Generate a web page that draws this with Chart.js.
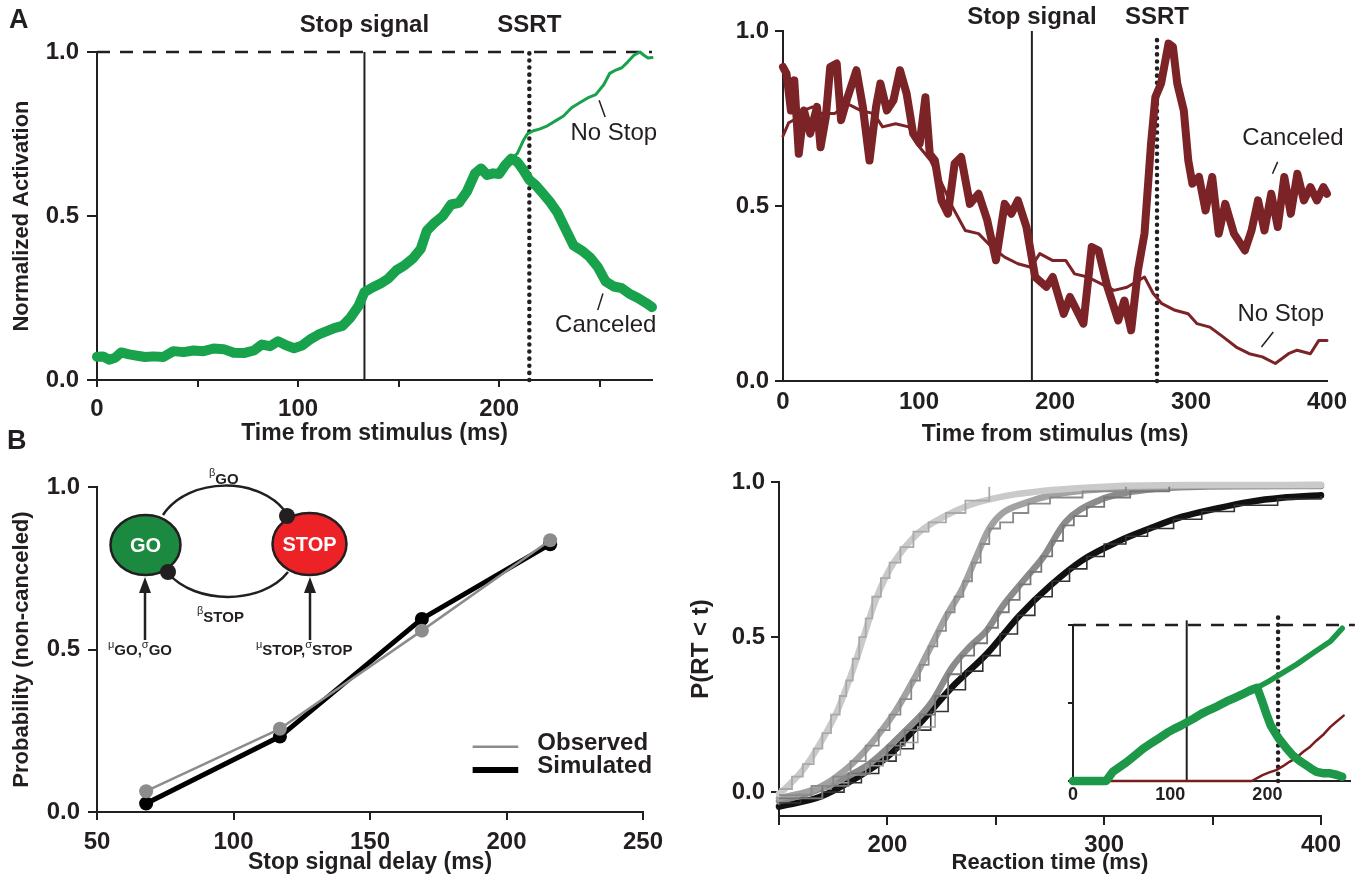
<!DOCTYPE html>
<html lang="en">
<head>
  <meta charset="UTF-8" />
  <title>Stop signal model</title>
  <script src="https://cdn.jsdelivr.net/npm/chart.js@4.4.0/dist/chart.umd.min.js"></script>
  <style>
    body      { margin:0; background:#fff; font-family:'Liberation Sans', Arial, sans-serif; }
    #page     { position:relative; width:1366px; height:880px; overflow:hidden; }
    canvas    { position:absolute; left:0; top:0; }
    svg       { position:absolute; left:0; top:0; pointer-events:none; }
    .letter   { position:absolute; font-weight:bold; font-size:27px; color:#231f20; }
  </style>
</head>
<body>
<div id="page">
  <canvas id="aLeft"  width="1366" height="880"></canvas>
  <canvas id="aRight" width="1366" height="880"></canvas>
  <canvas id="bLeft"  width="1366" height="880"></canvas>
  <canvas id="bRight" width="1366" height="880"></canvas>
  <canvas id="inset"  width="1366" height="880"></canvas>

  <!-- GO / STOP model sketch -->
  <svg width="1366" height="880" font-family="'Liberation Sans', Arial, sans-serif" fill="#231f20">
    <path d="M163,515 C188,476 262,476 287,514" fill="none" stroke="#231f20" stroke-width="2.5"/>
    <path d="M168,573 C195,605 262,605 288,572" fill="none" stroke="#231f20" stroke-width="2.5"/>
    <ellipse cx="145.5" cy="545" rx="35" ry="30" fill="#1b8a40" stroke="#231f20" stroke-width="2.5"/>
    <ellipse cx="309.5" cy="544" rx="37" ry="31" fill="#ec2227" stroke="#231f20" stroke-width="2.5"/>
    <circle cx="287" cy="516" r="8"/>
    <circle cx="168" cy="572" r="8"/>
    <text x="145.5" y="552" fill="#fff" font-size="20" font-weight="bold" text-anchor="middle">GO</text>
    <text x="309.5" y="551" fill="#fff" font-size="20" font-weight="bold" text-anchor="middle">STOP</text>
    <line x1="145" y1="640" x2="145" y2="590" stroke="#231f20" stroke-width="2.5"/>
    <polygon points="145,577 139,593 151,593"/>
    <line x1="310" y1="640" x2="310" y2="590" stroke="#231f20" stroke-width="2.5"/>
    <polygon points="310,577 304,593 316,593"/>
    <text x="209" y="484"><tspan font-size="11" dy="-8">β</tspan><tspan font-size="15" font-weight="bold" dy="8">GO</tspan></text>
    <text x="197" y="622"><tspan font-size="11" dy="-8">β</tspan><tspan font-size="15" font-weight="bold" dy="8">STOP</tspan></text>
    <text x="108" y="655"><tspan font-size="11" dy="-7">μ</tspan><tspan font-size="15" font-weight="bold" dy="7">GO,</tspan><tspan font-size="11" dy="-7">σ</tspan><tspan font-size="15" font-weight="bold" dy="7">GO</tspan></text>
    <text x="256" y="655"><tspan font-size="11" dy="-7">μ</tspan><tspan font-size="15" font-weight="bold" dy="7">STOP,</tspan><tspan font-size="11" dy="-7">σ</tspan><tspan font-size="15" font-weight="bold" dy="7">STOP</tspan></text>
  </svg>

  <div class="letter" style="left:9px; top:4px;">A</div>
  <div class="letter" style="left:7px; top:425px;">B</div>
</div>

<script>
  /* ── panel A, left: GO unit activation ── */
  const aTime     = [0,3,6,9,12,16,20,24,28,33,38,43,48,53,58,63,68,73,78,82,86,90,94,98,102,106,110,114,118,122,126,130,133,137,141,145,149,153,157,161,164,168,172,176,180,184,188,191,194,197,200,203,206,209,212,215,218,221,225,229,233,237,241,245,249,253,257,261,265,269,273,276];
  const aCanceled = [0.071,0.072,0.062,0.068,0.084,0.078,0.074,0.07,0.072,0.07,0.088,0.085,0.09,0.088,0.096,0.094,0.083,0.082,0.09,0.108,0.103,0.118,0.106,0.097,0.105,0.124,0.138,0.148,0.158,0.165,0.19,0.225,0.268,0.282,0.294,0.31,0.335,0.35,0.37,0.4,0.455,0.48,0.5,0.535,0.54,0.575,0.63,0.645,0.625,0.63,0.628,0.655,0.675,0.665,0.64,0.61,0.595,0.574,0.545,0.51,0.46,0.41,0.395,0.375,0.345,0.3,0.285,0.28,0.262,0.25,0.235,0.222];
  const aNsTime   = [206,209,212,214,217,220,224,228,232,236,240,244,248,252,255,258,261,264,267,270,272,274,276];
  const aNoStop   = [0.675,0.69,0.73,0.75,0.76,0.765,0.775,0.79,0.805,0.83,0.845,0.86,0.87,0.9,0.935,0.945,0.952,0.97,0.99,1.0,0.99,0.982,0.983];
  const aStopSig  = 133;
  const aSSRT     = 215;
  const aXTicks   = [0,50,100,150,200,250];
  const aXLabels  = [0,100,200];

  /* ── panel A, right: movement neuron ── */
  const rTime     = [0,2.6,5.8,8.3,11.6,15.4,20,25,27.6,31.5,34.7,39.5,42.7,47.5,54,58.7,63.6,68.4,71.6,76.4,81.2,86,90.9,95.7,100.5,104.7,107.9,111.7,116.5,121.3,126.2,131,137.4,143.8,150.2,156.6,163,167.9,172.7,179,185.4,193.6,198.4,206.4,211,220.9,227,232,238.5,246.5,251,256,261,265.8,270.6,273.8,278,283.5,286.7,289.9,294.7,298,301,305.9,310.7,315.6,320.4,325.2,331.6,339.6,344.5,349.3,354,359,363.8,368.6,373.4,378.2,383,387.8,392.6,397.4,400];
  const rCanceled = [0.897,0.878,0.773,0.859,0.649,0.773,0.707,0.783,0.668,0.754,0.897,0.907,0.745,0.811,0.888,0.783,0.63,0.783,0.85,0.773,0.802,0.888,0.821,0.707,0.678,0.811,0.649,0.63,0.516,0.478,0.621,0.64,0.506,0.535,0.459,0.345,0.506,0.478,0.516,0.44,0.297,0.269,0.297,0.192,0.24,0.164,0.383,0.373,0.269,0.173,0.23,0.145,0.316,0.421,0.678,0.811,0.85,0.964,0.955,0.85,0.773,0.63,0.564,0.583,0.487,0.583,0.421,0.506,0.421,0.373,0.43,0.516,0.43,0.535,0.44,0.583,0.478,0.592,0.516,0.554,0.516,0.554,0.535];
  const rNsTime   = [0,4.2,9,15.4,21.8,28.3,37.9,47.5,57,66.8,73.2,82.8,92.5,100.5,108.5,118,124.6,134,143.8,153.4,163,172.7,182.3,188.8,198.4,208,214.4,224,233.7,243.3,252.9,265.8,272.2,278.6,288.3,297.9,304.3,313.9,323.6,333.2,342.8,352.5,362,371.7,378,387.8,394,400];
  const rNoStop   = [0.70,0.738,0.748,0.773,0.783,0.764,0.764,0.792,0.773,0.764,0.726,0.735,0.726,0.668,0.63,0.554,0.497,0.43,0.421,0.383,0.354,0.335,0.325,0.364,0.344,0.344,0.306,0.297,0.278,0.259,0.268,0.297,0.25,0.221,0.202,0.192,0.164,0.154,0.126,0.097,0.078,0.069,0.05,0.078,0.088,0.078,0.116,0.116];
  const rStopSig  = 183;
  const rSSRT     = 275;
  const rXTicks   = [0,100,200,300,400];

  /* ── panel B, left: inhibition function ── */
  const ssd       = [68,117,169,216];
  const observed  = [0.064,0.256,0.558,0.836];
  const simulated = [0.026,0.232,0.594,0.824];
  const bXTicks   = [50,100,150,200,250];

  /* ── panel B, right: RT distributions (simulated, smooth) ── */
  const rtL = [150,152,161,169,177,184,189,194,200,207,215,226,238,253,276,300,340,400];
  const pL  = [-0.005,0.006,0.071,0.157,0.264,0.393,0.5,0.608,0.705,0.78,0.84,0.888,0.926,0.953,0.974,0.985,0.99,0.99];
  const rtM = [150,169,184,195,204,212,220,227,235,241,247,253,263,276,300,340,400];
  const pM  = [-0.02,0.017,0.093,0.178,0.264,0.361,0.469,0.565,0.662,0.759,0.85,0.899,0.931,0.958,0.978,0.988,0.99];
  const rtD = [150,165,177,192,207,220,230,238,246,253,263,272,282,298,313,344,400];
  const pD  = [-0.03,0.0,0.035,0.093,0.189,0.286,0.404,0.469,0.523,0.598,0.684,0.759,0.87,0.942,0.969,0.985,0.987];
  const rtK = [150,169,184,200,215,230,246,261,275,290,306,321,336,352,367,382,400];
  const pK  = [-0.047,-0.015,0.039,0.114,0.222,0.34,0.447,0.57,0.665,0.748,0.807,0.85,0.888,0.915,0.936,0.949,0.957];
  /* observed distributions (stepped) */
  const obLT  = [150,156,161,166,170,174,178,181,184,187,190,193,197,201,206,212,219,227,236,247];
  const obL   = [0.01,0.05,0.09,0.14,0.19,0.25,0.31,0.36,0.43,0.5,0.56,0.63,0.69,0.74,0.79,0.84,0.87,0.9,0.94,0.985];
  const obMT  = [150,165,175,183,190,196,201,206,211,215,219,223,227,231,235,239,243,247,252,258,265,275,290,310];
  const obM   = [-0.01,0.02,0.05,0.1,0.15,0.2,0.25,0.3,0.36,0.41,0.47,0.52,0.58,0.63,0.68,0.74,0.8,0.85,0.87,0.9,0.93,0.95,0.97,0.985];
  const obDT  = [150,170,182,192,200,208,215,222,228,234,240,246,251,256,261,266,271,276,281,286,292,300,312,330];
  const obD   = [-0.02,0.02,0.06,0.1,0.15,0.2,0.25,0.31,0.38,0.44,0.48,0.53,0.58,0.62,0.67,0.71,0.76,0.81,0.86,0.89,0.92,0.95,0.97,0.985];
  const obK1T = [150,160,170,180,188,196,204,212,220,228,236,244,252,260,268,276,284,292,300,310,320,332,345,360,380,400];
  const obK1  = [-0.035,-0.02,0.0,0.03,0.06,0.1,0.14,0.2,0.26,0.33,0.39,0.44,0.51,0.57,0.63,0.68,0.72,0.76,0.8,0.825,0.85,0.88,0.905,0.925,0.945,0.955];
  const obK2T = [150,158,166,174,182,190,198,206,214,222];
  const obK2  = [-0.02,-0.005,0.01,0.03,0.055,0.085,0.12,0.16,0.21,0.27];
  const rtXTicks  = [150,200,250,300,350,400];
  const rtXLabels = [200,300,400];

  /* ── inset: model units ── */
  const inT       = [0,34,41,48,55,63,72,80,90,97,104,111,117,124,132,140,149,158,167,174,181,186,189.5,195,199,203.5,208,212,219,226,233,240,245,250.6,257,264.6,271,277];
  const inCancel  = [0,0,0.06,0.09,0.12,0.16,0.207,0.24,0.28,0.31,0.334,0.355,0.376,0.4,0.43,0.455,0.48,0.51,0.535,0.555,0.577,0.59,0.598,0.503,0.43,0.355,0.31,0.27,0.215,0.165,0.13,0.101,0.08,0.059,0.05,0.049,0.04,0.027];
  const inNsT     = [186,189.5,201.7,215.7,229.7,247,264.6,277];
  const inNoStop  = [0.59,0.598,0.64,0.693,0.746,0.82,0.894,0.979];
  const inStopT   = [0,184,195,202,209,216,222.7,230,236.6,244,250.6,258,264.6,271,278.5];
  const inStop    = [0,0,0.038,0.055,0.07,0.095,0.123,0.15,0.186,0.22,0.26,0.3,0.345,0.38,0.419];
  const inStopSig = 117;
  const inSSRT    = 211;
  const inXTicks  = [0,100,200];

  const yTicks = [0,0.5,1];

  /* ── helpers ── */
  const W = 1366, H = 880, INK = '#231f20';
  Chart.defaults.font.family = "'Liberation Sans', Arial, sans-serif";
  Chart.defaults.color = INK;

  const zip = (xs, ys) => xs.map((x,i)=>({x, y:ys[i]}));

  function line(xs, ys, color, width, extra){
    return Object.assign({
      data: zip(xs, ys), borderColor: color, borderWidth: width,
      pointRadius: 0, fill: false, tension: 0, clip: false,
      borderJoinStyle: 'round', borderCapStyle: 'round'
    }, extra || {});
  }
  const vline  = (x, y0, y1, w) => line([x,x],[y0,y1], INK, w || 2, {borderCapStyle:'butt'});
  const dotted = (x, y0, y1) => line([x,x],[y0,y1], INK, 4.5, {borderDash:[0.1,7]});
  const dashed = (x0, x1, y) => line([x0,x1],[y,y], INK, 2.5, {borderDash:[13,10], borderCapStyle:'butt'});

  function axis(o){
    return {
      type:'linear', min:o.min, max:o.max,
      afterBuildTicks: s => { s.ticks = o.ticks.map(v=>({value:v})); },
      afterFit: s => { if (o.w != null) s.width = o.w; if (o.h != null) s.height = o.h; },
      border:{ display:true, color:INK, width:2 },
      grid:{ drawOnChartArea:false, drawTicks:o.tl !== 0, tickLength:o.tl || 0, color:INK, lineWidth:2 },
      ticks:{ display:o.show !== false, autoSkip:false, maxRotation:0, padding:o.pad == null ? 6 : o.pad,
              color:INK, font:{ size:o.fs || 24, weight:'bold' }, callback:o.cb },
      title: o.title ? { display:true, text:o.title, color:INK, font:{ size:o.ts || 22, weight:'bold' }, padding:{top:4,bottom:4} }
                     : { display:false }
    };
  }
  const yFmt = v => v.toFixed(1);
  const only = list => v => list.includes(v) ? String(v) : '';

  /* free text + leader lines, placed in data units */
  const NOTES = {};
  const notes = {
    id:'notes',
    afterDatasetsDraw(chart){
      const n = NOTES[chart.canvas.id]; if(!n) return;
      const {ctx, scales:{x, y}} = chart;
      ctx.save();
      (n.segs || []).forEach(s=>{
        ctx.strokeStyle = s.color || INK; ctx.lineWidth = s.width || 1.5; ctx.lineCap = 'butt';
        ctx.beginPath();
        ctx.moveTo(x.getPixelForValue(s.x1), y.getPixelForValue(s.y1));
        ctx.lineTo(x.getPixelForValue(s.x2), y.getPixelForValue(s.y2));
        ctx.stroke();
      });
      (n.texts || []).forEach(t=>{
        ctx.font = t.font; ctx.fillStyle = INK;
        ctx.textAlign = t.align || 'center'; ctx.textBaseline = 'middle';
        ctx.fillText(t.text, x.getPixelForValue(t.x), y.getPixelForValue(t.y));
      });
      ctx.restore();
    }
  };

  function make(id, box, wy, hx, datasets, xs, ys){
    return new Chart(document.getElementById(id), {
      type:'line',
      data:{ datasets },
      options:{
        responsive:false, animation:false, devicePixelRatio:1, events:[],
        layout:{ padding:{ left:box.l - wy, right:W - box.r, top:box.t, bottom:H - box.b - hx } },
        plugins:{ legend:{display:false}, tooltip:{enabled:false} },
        scales:{ x:xs, y:ys }
      },
      plugins:[notes]
    });
  }

  const BOLD = "bold 24px 'Liberation Sans', Arial, sans-serif";
  const REG  = "24px 'Liberation Sans', Arial, sans-serif";
  const GREEN = '#18a24b', RED = '#7b2326';

  /* ── A left ── */
  NOTES.aLeft = {
    texts:[
      {x:aStopSig, y:1.082, text:'Stop signal', font:BOLD},
      {x:aSSRT,    y:1.082, text:'SSRT',        font:BOLD},
      {x:257, y:0.753, text:'No Stop',  font:REG},
      {x:253, y:0.168, text:'Canceled', font:REG}
    ],
    segs:[ {x1:249.7,y1:0.853,x2:252.7,y2:0.802}, {x1:251.6,y1:0.264,x2:249,y2:0.213} ]
  };
  make('aLeft', {l:97, r:652, t:52, b:380}, 92, 71, [
    line(aTime, aCanceled, GREEN, 10),
    line(aNsTime, aNoStop, GREEN, 3),
    vline(aStopSig, 0, 1),
    dotted(aSSRT, 0, 1),
    dashed(0, 276, 1)
  ],
  axis({min:0, max:276, ticks:aXTicks, cb:only(aXLabels), tl:7, pad:8, h:71, ts:23, title:'Time from stimulus (ms)'}),
  axis({min:0, max:1, ticks:yTicks, cb:yFmt, tl:10, pad:8, w:92, title:'Normalized Activation'}));

  /* ── A right ── */
  NOTES.aRight = {
    texts:[
      {x:rStopSig, y:1.038, text:'Stop signal', font:BOLD},
      {x:rSSRT,    y:1.038, text:'SSRT',        font:BOLD},
      {x:375, y:0.692, text:'Canceled', font:REG},
      {x:366, y:0.19,  text:'No Stop',  font:REG}
    ],
    segs:[ {x1:363.7,y1:0.626,x2:359.9,y2:0.592}, {x1:360.5,y1:0.14,x2:351.8,y2:0.097} ]
  };
  make('aRight', {l:783, r:1327, t:31, b:381}, 60, 71, [
    line(rTime, rCanceled, RED, 8),
    line(rNsTime, rNoStop, RED, 3),
    vline(rStopSig, 0, 1),
    dotted(rSSRT, 0, 0.99)
  ],
  axis({min:0, max:400, ticks:rXTicks, cb:v=>String(v), tl:0, pad:7, h:71, ts:23, title:'Time from stimulus (ms)'}),
  axis({min:0, max:1, ticks:yTicks, cb:yFmt, tl:8, pad:6, w:60}));

  /* ── B left ── */
  NOTES.bLeft = {
    texts:[
      {x:211.3, y:0.212, text:'Observed',  font:BOLD, align:'left'},
      {x:211.3, y:0.139, text:'Simulated', font:BOLD, align:'left'}
    ],
    segs:[
      {x1:187.6, y1:0.201, x2:204.3, y2:0.201, color:'#8c8c8c', width:2.5},
      {x1:187.6, y1:0.129, x2:204.3, y2:0.129, color:'#000', width:6}
    ]
  };
  make('bLeft', {l:97, r:643, t:487, b:812}, 92, 68, [
    line(ssd, observed, '#8c8c8c', 2.5, {label:'Observed', pointRadius:7, pointBackgroundColor:'#8c8c8c', pointBorderWidth:0}),
    line(ssd, simulated, '#000', 5, {label:'Simulated', pointRadius:7, pointBackgroundColor:'#000', pointBorderWidth:0})
  ],
  axis({min:50, max:250, ticks:bXTicks, cb:v=>String(v), tl:8, pad:8, h:68, ts:23, title:'Stop signal delay (ms)'}),
  axis({min:0, max:1, ticks:yTicks, cb:yFmt, tl:9, pad:8, w:92, title:'Probability (non-canceled)'}));

  /* ── B right ── */
  const step = {stepped:true, borderJoinStyle:'miter', borderCapStyle:'butt'};
  make('bRight', {l:779, r:1321, t:482, b:816}, 96, 64, [
    line(obLT,  obL,  '#a9a9a9', 1.8, step),
    line(obMT,  obM,  '#8a8a8a', 1.8, step),
    line(obDT,  obD,  '#777777', 1.8, step),
    line(obK2T, obK2, '#9a9a9a', 1.5, step),
    line(obK1T, obK1, '#333333', 1.6, step),
    line(rtL, pL, '#cacaca', 6.5, {cubicInterpolationMode:'monotone'}),
    line(rtM, pM, '#a2a2a2', 6.5, {cubicInterpolationMode:'monotone'}),
    line(rtD, pD, '#8b8b8b', 6.5, {cubicInterpolationMode:'monotone'}),
    line(rtK, pK, '#111111', 6.5, {cubicInterpolationMode:'monotone'})
  ],
  axis({min:150, max:400, ticks:rtXTicks, cb:only(rtXLabels), tl:9, pad:6, h:64, title:'Reaction time (ms)'}),
  axis({min:-0.077, max:1, ticks:yTicks, cb:yFmt, tl:8, pad:6, w:96, ts:24, title:'P(RT < t)'}));

  /* ── inset ── */
  make('inset', {l:1073, r:1350, t:625, b:781}, 8, 28, [
    line(inT, inCancel, '#1d9848', 8.5),
    line(inNsT, inNoStop, '#1d9848', 5.5),
    line(inStopT, inStop, '#7a1c1c', 2.5),
    vline(inStopSig, 0, 1.03),
    dotted(inSSRT, 0, 1.05),
    dashed(0, 290, 1)
  ],
  axis({min:0, max:285, ticks:inXTicks, cb:v=>String(v), tl:0, pad:3, fs:18, h:28}),
  axis({min:0, max:1, ticks:yTicks, show:false, tl:5, w:8}));
</script>
</body>
</html>
